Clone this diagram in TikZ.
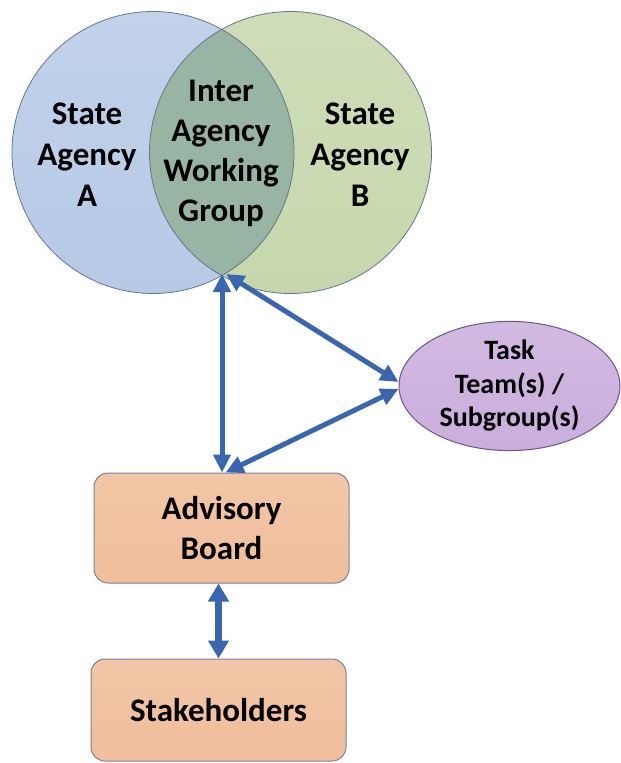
\documentclass[tikz,border=0pt]{standalone}
\usepackage{fontspec}
\setmainfont{Carlito}
\usetikzlibrary{arrows.meta,shapes.geometric,positioning}
\definecolor{agencyAfill}{HTML}{B6CAE6}
\definecolor{agencyBfill}{HTML}{C6D7AC}
\definecolor{lensfill}{HTML}{98B4A3}
\definecolor{rimline}{HTML}{65768E}
\definecolor{taskfill}{HTML}{CAADDC}
\definecolor{taskline}{HTML}{675889}
\definecolor{boxfill}{HTML}{F0BE9B}
\definecolor{boxline}{HTML}{76839A}
\definecolor{arrowblue}{HTML}{3A66B0}

\begin{document}
\begin{tikzpicture}[x=1pt,y=-1pt]
    \tikzstyle{bigtext}=[font=\bfseries\fontsize{33}{40}\selectfont,align=center,text=black]
    \tikzstyle{board}=[rectangle,draw=boxline,line width=1pt,top color=boxfill!88!white,bottom color=boxfill,rounded corners=14pt,minimum width=255pt,bigtext]
    \tikzstyle{link}=[{Triangle[length=18pt,width=17pt]}-{Triangle[length=18pt,width=17pt]},line width=5pt,draw=arrowblue]
    \useasboundingbox (0,0) rectangle (621,763);
    % the two agencies and their overlap
    \node (agencyA)[circle,minimum size=282pt,inner sep=0pt,top color=agencyAfill!85!white,bottom color=agencyAfill] at (153,152.5) {};
    \node (agencyB)[circle,minimum size=282pt,inner sep=0pt,top color=agencyBfill!85!white,bottom color=agencyBfill] at (290.5,152.5) {};
    \begin{scope}
        \clip (agencyA.center) circle (141pt);
        \fill[lensfill] (agencyB.center) circle (141pt);
    \end{scope}
    \draw[rimline,line width=0.8pt] (agencyA.center) circle (141pt);
    \draw[rimline,line width=0.8pt] (agencyB.center) circle (141pt);
    \node (nameA)[bigtext,font=\bfseries\fontsize{33}{41}\selectfont] at (87,155) {State\\Agency\\A};
    \node (nameIAWG)[bigtext] at (221,153) {Inter\\Agency\\Working\\Group};
    \node (nameB)[bigtext,font=\bfseries\fontsize{33}{41}\selectfont] at (360,155) {State\\Agency\\B};
    \coordinate (iawg) at (222,274);
    % task teams
    \node (task)[ellipse,draw=taskline,line width=1pt,top color=taskfill!85!white,bottom color=taskfill,minimum width=221pt,minimum height=128pt,inner sep=0pt,align=center,font=\bfseries\fontsize{28}{33.5}\selectfont] at (509.5,386) {Task\\Team(s) /\\Subgroup(s)};
    % boards
    \node (advisory)[board,minimum height=110pt] at (221.5,528) {Advisory\\Board};
    \node (stake)[board,minimum height=102pt] at (218.5,710) {Stakeholders};
    % links
    \draw[link] (iawg) -- (iawg |- advisory.north);
    \draw[link] ([xshift=4pt]iawg) -- ([yshift=4pt]task.west);
    \draw[link] ([yshift=-3pt]task.west) -- ([xshift=4pt]advisory.north);
    \draw[link,line width=7pt,{Triangle[length=18pt,width=20pt]}-{Triangle[length=18pt,width=20pt]}] (stake.north |- advisory.south) -- (stake.north);
\end{tikzpicture}
\end{document}
